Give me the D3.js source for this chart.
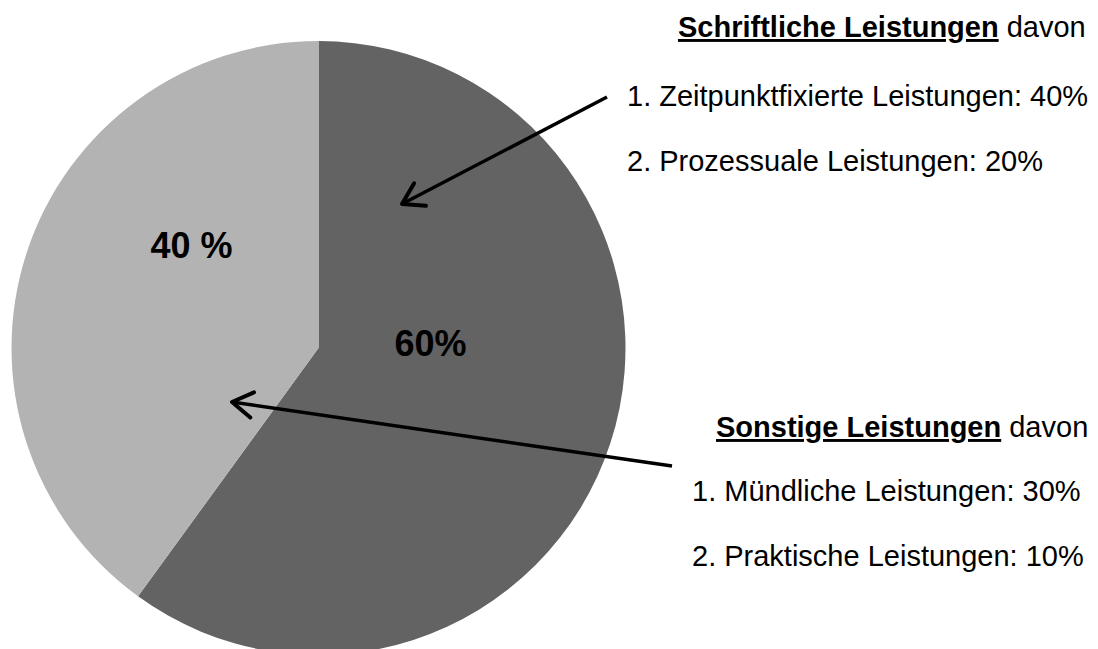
<!DOCTYPE html>
<html>
<head>
<meta charset="utf-8">
<script src="https://cdn.jsdelivr.net/npm/d3@7"></script>
<style>
  body { margin: 0; background: #fff; }
  svg { display: block; font-family: "Liberation Sans", Arial, sans-serif; }
</style>
</head>
<body>
<svg width="1098" height="649"></svg>
<script>
// data
const categories = ["Schriftliche Leistungen", "Sonstige Leistungen"];
const values = [60, 40];
const sliceLabels = ["60%", "40 %"];
const subItems = [
  ["1. Zeitpunktfixierte Leistungen: 40%", "2. Prozessuale Leistungen: 20%"],
  ["1. Mündliche Leistungen: 30%", "2. Praktische Leistungen: 10%"]
];

const svg = d3.select("svg");
const cx = 318.5, cy = 348, radius = 307;

const colors = ["#636363", "#b3b3b3"];

const pie = d3.pie().sort(null).startAngle(0).endAngle(2 * Math.PI);
const arc = d3.arc().innerRadius(0).outerRadius(radius);

const g = svg.append("g").attr("transform", "translate(" + cx + "," + cy + ")");

const arcs = pie(values);

g.selectAll("path.slice")
  .data(arcs)
  .enter().append("path")
  .attr("class", "slice")
  .attr("d", arc)
  .attr("fill", (d, i) => colors[i]);

// percent labels inside the slices (offset from center)
const labelPos = [[112, -5], [-127, -103]];
g.selectAll("text.pct")
  .data(arcs)
  .enter().append("text")
  .attr("class", "pct")
  .attr("x", (d, i) => labelPos[i][0])
  .attr("y", (d, i) => labelPos[i][1])
  .attr("dy", "0.36em")
  .attr("text-anchor", "middle")
  .attr("font-size", 36)
  .attr("font-weight", "bold")
  .attr("fill", "#000")
  .text((d, i) => sliceLabels[i]);

// text blocks on the right
const blocks = [
  { hx: 678, hy: 37, lx: 627, ly: [106, 171] },
  { hx: 716, hy: 437, lx: 692, ly: [501, 566] }
];

blocks.forEach((b, i) => {
  const t = svg.append("text")
    .attr("x", b.hx)
    .attr("y", b.hy)
    .attr("font-size", 29)
    .attr("fill", "#000");
  t.append("tspan")
    .attr("font-weight", "bold")
    .style("text-decoration", "underline")
    .text(categories[i]);
  t.append("tspan").text(" davon");

  subItems[i].forEach((s, j) => {
    svg.append("text")
      .attr("x", b.lx)
      .attr("y", b.ly[j])
      .attr("font-size", 29)
      .attr("fill", "#000")
      .text(s);
  });
});

// arrows
const arrows = [
  { from: [607, 97], to: [402, 204] },
  { from: [672, 466], to: [232, 402] }
];

function arrowHead(a) {
  const dx = a.from[0] - a.to[0], dy = a.from[1] - a.to[1];
  const len = Math.sqrt(dx * dx + dy * dy);
  const ux = dx / len, uy = dy / len;
  const L = 24, ang = 32 * Math.PI / 180;
  const c = Math.cos(ang), s = Math.sin(ang);
  const p1 = [a.to[0] + L * (ux * c - uy * s), a.to[1] + L * (ux * s + uy * c)];
  const p2 = [a.to[0] + L * (ux * c + uy * s), a.to[1] + L * (-ux * s + uy * c)];
  return d3.line()([p1, a.to, p2]);
}

svg.selectAll("line.arrow")
  .data(arrows)
  .enter().append("line")
  .attr("class", "arrow")
  .attr("x1", d => d.from[0])
  .attr("y1", d => d.from[1])
  .attr("x2", d => d.to[0])
  .attr("y2", d => d.to[1])
  .attr("stroke", "#000")
  .attr("stroke-width", 3.5);

svg.selectAll("path.head")
  .data(arrows)
  .enter().append("path")
  .attr("class", "head")
  .attr("d", arrowHead)
  .attr("fill", "none")
  .attr("stroke", "#000")
  .attr("stroke-width", 4)
  .attr("stroke-linecap", "round")
  .attr("stroke-linejoin", "round");
</script>
</body>
</html>
